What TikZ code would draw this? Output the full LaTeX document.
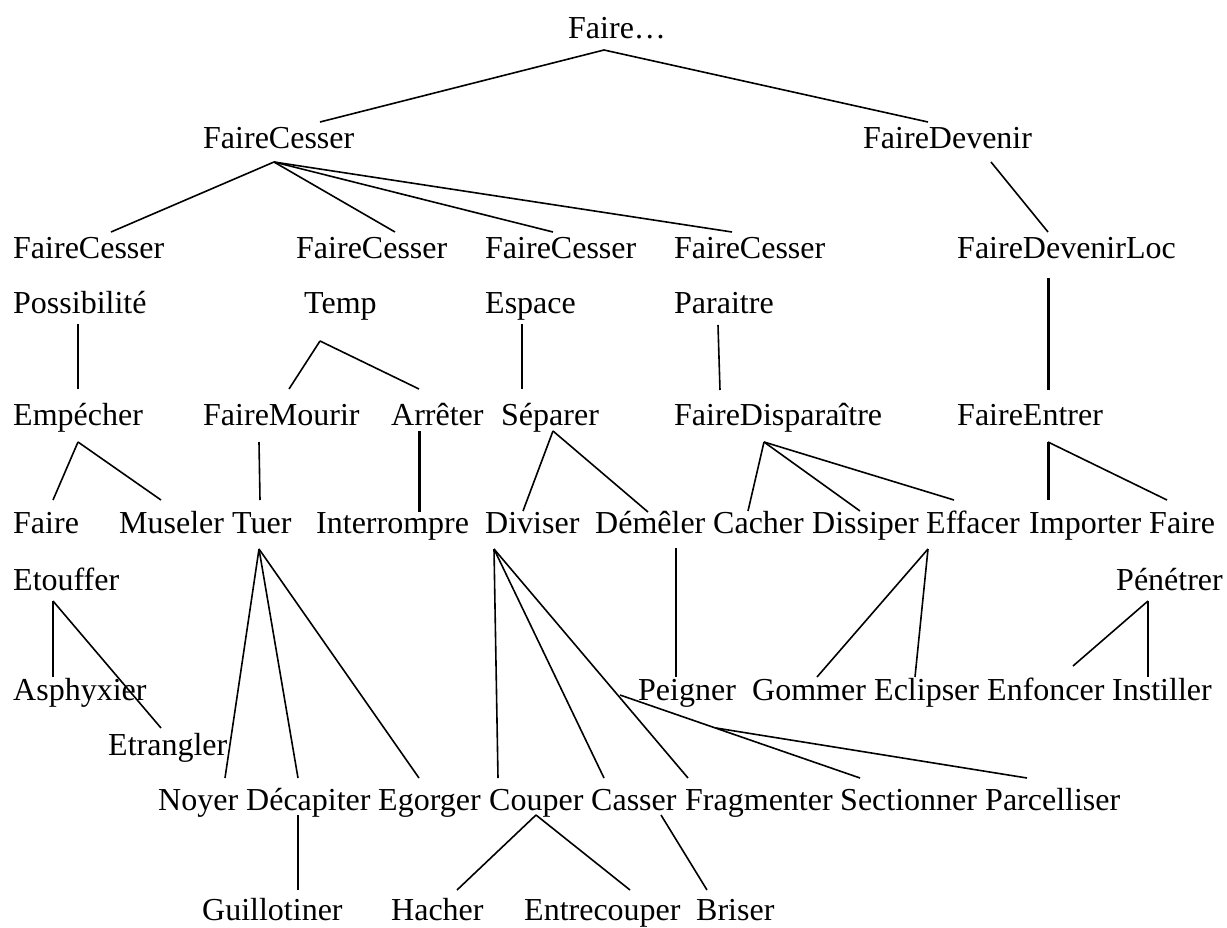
\documentclass[tikz,border=0pt]{standalone}
\usepackage{fontspec}
\setmainfont{Liberation Serif}
\begin{document}
\begin{tikzpicture}[x=1pt,y=-1pt,
  lbl/.style={anchor=base west,inner sep=0pt,font=\fontsize{32}{38}\selectfont},
  edge/.style={line width=1.6pt},
  thickedge/.style={line width=3pt}]
\useasboundingbox (0,0) rectangle (1227,927);
% ---- labels ----
\node[lbl] (root) at (568,38) {Faire…};
\node[lbl] (fc) at (203,148) {FaireCesser};
\node[lbl] (fd) at (863,148) {FaireDevenir};
\node[lbl] (fc1) at (13,258) {FaireCesser};
\node[lbl] (fc1b) at (13,313) {Possibilité};
\node[lbl] (fc2) at (296,258) {FaireCesser};
\node[lbl] (fc2b) at (304,313) {Temp};
\node[lbl] (fc3) at (485,258) {FaireCesser};
\node[lbl] (fc3b) at (485,313) {Espace};
\node[lbl] (fc4) at (674,258) {FaireCesser};
\node[lbl] (fc4b) at (674,313) {Paraitre};
\node[lbl] (fdl) at (957,258) {FaireDevenirLoc};
\node[lbl] (emp) at (13,425) {Empécher};
\node[lbl] (fm) at (203,425) {FaireMourir};
\node[lbl] (arr) at (391,425) {Arrêter};
\node[lbl] (sep) at (501,425) {Séparer};
\node[lbl] (fdis) at (674,425) {FaireDisparaître};
\node[lbl] (fe) at (957,425) {FaireEntrer};
\node[lbl] (fa2) at (13,533) {Faire};
\node[lbl] (fa2b) at (13,590) {Etouffer};
\node[lbl] (mus) at (119,533) {Museler};
\node[lbl] (tuer) at (232,533) {Tuer};
\node[lbl] (inter) at (316,533) {Interrompre};
\node[lbl] (div) at (485,533) {Diviser};
\node[lbl] (dem) at (595,533) {Démêler};
\node[lbl] (cach) at (713,533) {Cacher};
\node[lbl] (diss) at (812,533) {Dissiper};
\node[lbl] (eff) at (926,533) {Effacer};
\node[lbl] (imp) at (1029,533) {Importer};
\node[lbl] (fa3) at (1149,533) {Faire};
\node[lbl] (fa3b) at (1116,590) {Pénétrer};
\node[lbl] (asph) at (13,700) {Asphyxier};
\node[lbl] (etr) at (108,755) {Etrangler};
\node[lbl] (peig) at (638,700) {Peigner};
\node[lbl] (gom) at (752,700) {Gommer};
\node[lbl] (ecl) at (874,700) {Eclipser};
\node[lbl] (enf) at (987,700) {Enfoncer};
\node[lbl] (inst) at (1112,700) {Instiller};
\node[lbl] (noy) at (158,810) {Noyer};
\node[lbl] (dec) at (246,810) {Décapiter};
\node[lbl] (ego) at (378,810) {Egorger};
\node[lbl] (coup) at (489,810) {Couper};
\node[lbl] (cass) at (591,810) {Casser};
\node[lbl] (frag) at (685,810) {Fragmenter};
\node[lbl] (sect) at (840,810) {Sectionner};
\node[lbl] (parc) at (985,810) {Parcelliser};
\node[lbl] (guil) at (202,920) {Guillotiner};
\node[lbl] (hach) at (391,920) {Hacher};
\node[lbl] (entr) at (524,920) {Entrecouper};
\node[lbl] (bris) at (696,920) {Briser};
% ---- connector end points ----
\coordinate (root-b) at (604,50);
\coordinate (fc-t) at (320,122);
\coordinate (fd-t) at (928,122);
\coordinate (fc-b) at (274,162);
\coordinate (fc1-t) at (111,232);
\coordinate (fc2-t) at (395,232);
\coordinate (fc3-t) at (553,232);
\coordinate (fc4-t) at (732,232);
\coordinate (fd-b) at (991,162);
\coordinate (fdl-t) at (1048,232);
\coordinate (fdl-b) at (1048,278);
\coordinate (fe-t) at (1048,390);
\coordinate (fc1-b) at (78,324);
\coordinate (emp-t) at (78,389);
\coordinate (fc2-b) at (320,341);
\coordinate (fm-t) at (289,389);
\coordinate (arr-t) at (419,389);
\coordinate (fc3-b) at (522,324);
\coordinate (sep-t) at (522,389);
\coordinate (fc4-b) at (718,325);
\coordinate (fdis-t) at (720,390);
\coordinate (emp-b) at (78,442);
\coordinate (fa2-t) at (53,500);
\coordinate (mus-t) at (161,500);
\coordinate (fm-b) at (259,442);
\coordinate (tuer-t) at (260,500);
\coordinate (arr-b) at (419,431);
\coordinate (inter-t) at (419,512);
\coordinate (sep-b) at (553,431);
\coordinate (div-t) at (523,511);
\coordinate (dem-t) at (648,512);
\coordinate (fdis-b) at (764,442);
\coordinate (cach-t) at (748,511);
\coordinate (diss-t) at (860,511);
\coordinate (eff-t) at (954,500);
\coordinate (fe-b) at (1048,442);
\coordinate (imp-t) at (1048,500);
\coordinate (fa3-t) at (1167,500);
\coordinate (fa2-b) at (53,601);
\coordinate (asph-t) at (53,677);
\coordinate (etr-t) at (161,728);
\coordinate (tuer-b) at (259,549);
\coordinate (noy-t) at (225,778);
\coordinate (dec-t) at (298,778);
\coordinate (ego-t) at (419,778);
\coordinate (div-b) at (494,549);
\coordinate (coup-t) at (498,778);
\coordinate (cass-t) at (604,778);
\coordinate (frag-t) at (688,778);
\coordinate (dem-b) at (676,548);
\coordinate (peig-t) at (676,677);
\coordinate (eff-b) at (928,549);
\coordinate (gom-t) at (817,677);
\coordinate (ecl-t) at (915,677);
\coordinate (fa3-b) at (1148,601);
\coordinate (enf-t) at (1073,666);
\coordinate (inst-t) at (1148,677);
\coordinate (x1) at (620,695);
\coordinate (sect-t) at (860,778);
\coordinate (x2) at (716,728);
\coordinate (parc-t) at (1027,778);
\coordinate (dec-b) at (298,815);
\coordinate (guil-t) at (298,890);
\coordinate (coup-b) at (536,815);
\coordinate (hach-t) at (457,890);
\coordinate (entr-t) at (630,890);
\coordinate (cass-b) at (661,815);
\coordinate (bris-t) at (707,890);
% ---- connectors ----
\draw[edge] (root-b) -- (fc-t);
\draw[edge] (root-b) -- (fd-t);
\draw[edge] (fc-b) -- (fc1-t);
\draw[edge] (fc-b) -- (fc2-t);
\draw[edge] (fc-b) -- (fc3-t);
\draw[edge] (fc-b) -- (fc4-t);
\draw[edge] (fd-b) -- (fdl-t);
\draw[thickedge] (fdl-b) -- (fe-t);
\draw[edge] (fc1-b) -- (emp-t);
\draw[edge] (fc2-b) -- (fm-t);
\draw[edge] (fc2-b) -- (arr-t);
\draw[edge] (fc3-b) -- (sep-t);
\draw[edge] (fc4-b) -- (fdis-t);
\draw[edge] (emp-b) -- (fa2-t);
\draw[edge] (emp-b) -- (mus-t);
\draw[edge] (fm-b) -- (tuer-t);
\draw[thickedge] (arr-b) -- (inter-t);
\draw[edge] (sep-b) -- (div-t);
\draw[edge] (sep-b) -- (dem-t);
\draw[edge] (fdis-b) -- (cach-t);
\draw[edge] (fdis-b) -- (diss-t);
\draw[edge] (fdis-b) -- (eff-t);
\draw[thickedge] (fe-b) -- (imp-t);
\draw[edge] (fe-b) -- (fa3-t);
\draw[edge] (fa2-b) -- (asph-t);
\draw[edge] (fa2-b) -- (etr-t);
\draw[edge] (tuer-b) -- (noy-t);
\draw[edge] (tuer-b) -- (dec-t);
\draw[edge] (tuer-b) -- (ego-t);
\draw[edge] (div-b) -- (coup-t);
\draw[edge] (div-b) -- (cass-t);
\draw[edge] (div-b) -- (frag-t);
\draw[edge] (dem-b) -- (peig-t);
\draw[edge] (eff-b) -- (gom-t);
\draw[edge] (eff-b) -- (ecl-t);
\draw[edge] (fa3-b) -- (enf-t);
\draw[edge] (fa3-b) -- (inst-t);
\draw[edge] (x1) -- (sect-t);
\draw[edge] (x2) -- (parc-t);
\draw[edge] (dec-b) -- (guil-t);
\draw[edge] (coup-b) -- (hach-t);
\draw[edge] (coup-b) -- (entr-t);
\draw[edge] (cass-b) -- (bris-t);
\end{tikzpicture}
\end{document}
